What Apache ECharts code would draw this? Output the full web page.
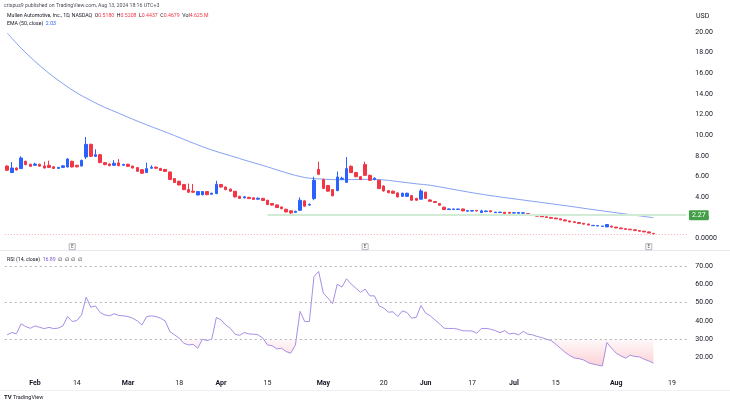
<!DOCTYPE html>
<html><head><meta charset="utf-8">
<script src="https://cdn.jsdelivr.net/npm/echarts@6/dist/echarts.min.js"></script>
<style>html,body{margin:0;padding:0;background:#fff}#c{width:730px;height:405px}</style>
</head><body><div id="c"></div>
<script>
// ---- data ----
const dates = ['01-24','01-25','01-26','01-29','01-30','01-31',
'02-01','02-02','02-05','02-06','02-07','02-08','02-09','02-12','02-13','02-14','02-15','02-16','02-20','02-21','02-22','02-23','02-26','02-27','02-28','02-29',
'03-01','03-04','03-05','03-06','03-07','03-08','03-11','03-12','03-13','03-14','03-15','03-18','03-19','03-20','03-21','03-22','03-25','03-26','03-27','03-28',
'04-01','04-02','04-03','04-04','04-05','04-08','04-09','04-10','04-11','04-12','04-15','04-16','04-17','04-18','04-19','04-22','04-23','04-24','04-25','04-26','04-29','04-30',
'05-01','05-02','05-03','05-06','05-07','05-08','05-09','05-10','05-13','05-14','05-15','05-16','05-17','05-20','05-21','05-22','05-23','05-24','05-28','05-29','05-30','05-31',
'06-03','06-04','06-05','06-06','06-07','06-10','06-11','06-12','06-13','06-14','06-17','06-18','06-20','06-21','06-24','06-25','06-26','06-27','06-28',
'07-01','07-02','07-03','07-05','07-08','07-09','07-10','07-11','07-12','07-15','07-16','07-17','07-18','07-19','07-22','07-23','07-24','07-25','07-26','07-29','07-30','07-31',
'08-01','08-02','08-05','08-06','08-07','08-08','08-09','08-12','08-13'];
const futureDates = ['08-14','08-15','08-16','08-19','08-20','08-21','08-22'];

const open = [7.03,6.40,6.84,6.78,7.49,7.20,7.10,7.20,7.03,7.10,6.95,6.80,6.90,6.94,7.49,7.10,7.03,7.90,9.13,7.97,8.13,7.36,7.22,7.10,7.33,7.10,
7.20,7.03,6.88,6.68,6.40,6.82,6.92,6.80,6.70,6.45,5.82,5.56,5.24,4.75,4.60,4.23,4.25,4.56,4.30,4.37,
5.24,5.00,4.80,4.59,4.10,3.95,4.00,3.95,3.82,3.90,3.72,3.40,3.27,3.07,2.85,2.70,2.55,2.75,3.66,3.25,3.88,6.71,
5.72,5.15,4.75,4.65,5.75,5.45,7.00,6.40,6.00,7.17,6.13,5.72,5.65,5.10,4.65,4.60,4.43,4.10,4.10,4.17,3.90,3.82,
4.50,3.75,3.60,3.40,3.05,2.82,2.82,2.83,2.88,2.66,2.67,2.74,2.53,2.62,2.70,2.52,2.53,2.56,2.55,
2.48,2.46,2.47,2.42,2.33,2.25,2.20,2.12,2.06,2.00,1.92,1.82,1.72,1.64,1.56,1.49,1.42,1.26,1.23,1.19,1.14,1.22,
1.12,1.04,0.97,0.92,0.86,0.79,0.73,0.66,0.518];
const close = [6.62,6.84,6.65,7.81,7.17,7.00,7.22,7.02,6.84,6.90,6.80,6.90,7.05,7.71,6.94,6.95,7.58,9.13,7.97,8.13,7.36,7.17,7.07,7.30,7.07,7.18,
7.00,6.84,6.52,6.33,6.78,6.92,6.82,6.60,6.50,5.72,5.43,5.20,4.75,4.49,4.50,4.56,4.56,4.26,4.40,5.27,
5.00,4.75,4.60,4.04,3.90,4.05,3.88,3.80,3.92,3.70,3.30,3.25,3.01,2.90,2.59,2.50,2.65,3.72,3.15,3.32,5.65,6.23,
4.86,4.60,4.15,5.97,5.85,6.78,6.40,6.00,5.72,6.13,5.65,5.85,4.85,4.62,4.45,4.40,4.04,4.40,4.40,3.72,3.72,4.62,
3.90,3.62,3.50,3.24,2.82,2.88,2.88,2.87,2.69,2.72,2.72,2.68,2.69,2.68,2.60,2.57,2.57,2.43,2.47,
2.52,2.54,2.50,2.35,2.26,2.18,2.12,2.05,1.98,1.92,1.82,1.72,1.62,1.56,1.48,1.41,1.32,1.29,1.26,1.22,1.37,1.12,
1.04,0.96,0.90,0.86,0.79,0.72,0.66,0.55,0.4679];
const low = [6.55,6.35,6.60,6.75,7.10,6.95,7.05,6.98,6.80,6.85,6.75,6.78,6.85,6.90,6.90,6.90,7.00,7.70,7.90,7.90,7.30,7.10,7.00,7.05,7.00,7.05,
6.95,6.80,6.50,6.30,6.35,6.78,6.75,6.55,6.45,5.70,5.40,5.15,4.70,4.45,4.45,4.20,4.20,4.20,4.25,4.30,
4.95,4.70,4.55,4.00,3.85,3.90,3.85,3.75,3.78,3.65,3.25,3.20,2.98,2.85,2.55,2.35,2.50,2.70,3.10,3.20,3.72,6.15,
4.80,4.55,4.10,4.60,5.70,5.40,6.35,5.95,5.68,6.10,5.60,5.65,4.80,4.55,4.40,4.35,4.00,4.05,4.05,3.70,3.68,3.80,
3.85,3.58,3.45,3.20,2.80,2.78,2.80,2.80,2.66,2.64,2.65,2.65,2.50,2.60,2.57,2.50,2.50,2.40,2.44,
2.45,2.44,2.44,2.33,2.24,2.16,2.10,2.03,1.96,1.90,1.80,1.70,1.60,1.54,1.46,1.39,1.30,1.24,1.21,1.17,1.12,1.10,
1.02,0.94,0.88,0.84,0.77,0.70,0.64,0.53,0.4437];
const high = [7.10,7.42,6.90,7.97,7.55,7.25,7.35,7.25,7.45,7.55,7.00,6.95,7.10,7.80,7.55,7.15,7.65,9.84,9.20,8.65,8.20,7.40,7.30,7.60,7.70,7.25,
7.25,7.05,6.90,6.70,7.36,7.10,7.00,6.85,6.75,6.50,5.85,5.60,5.30,5.33,5.30,4.60,4.60,4.60,4.45,5.60,
5.30,5.05,4.85,4.62,4.15,4.10,4.05,4.00,3.97,3.95,3.75,3.45,3.30,3.10,2.90,2.72,2.70,4.00,3.70,3.40,6.00,7.45,
5.80,5.20,4.80,6.50,6.00,7.90,7.10,6.45,6.05,7.45,6.20,5.95,5.70,5.15,4.70,4.65,4.48,4.45,4.45,4.20,3.95,4.80,
4.55,3.80,3.62,3.45,3.10,2.92,2.92,2.90,2.90,2.75,2.75,2.77,2.80,2.72,2.73,2.60,2.60,2.58,2.58,
2.55,2.56,2.53,2.45,2.35,2.27,2.22,2.14,2.08,2.02,1.94,1.84,1.74,1.66,1.58,1.51,1.44,1.31,1.28,1.24,1.42,1.25,
1.14,1.06,0.99,0.94,0.88,0.81,0.75,0.68,0.5208];

const rsi = [32.4,33.7,33.0,38.4,36.9,36.0,37.3,36.5,35.8,36.5,35.8,36.1,37.3,42.4,39.7,40.2,43.3,53.0,47.5,48.2,
44.6,43.3,42.8,43.9,43.0,42.8,42.4,41.5,40.0,37.8,42.4,42.8,42.4,41.5,40.0,34.2,32.4,30.6,27.8,26.9,
27.2,25.1,30.0,29.3,30.0,41.9,40.6,37.8,36.0,32.8,32.1,33.7,32.9,32.8,32.4,30.6,26.9,26.5,24.7,25.1,
23.3,22.4,26.9,45.2,39.7,39.7,64.3,67.0,55.2,52.5,49.4,60.1,58.5,63.0,60.1,57.9,55.6,57.4,53.7,53.7,
48.3,47.0,44.8,45.0,42.4,45.5,44.6,41.5,42.0,48.4,44.3,42.8,40.6,38.4,36.0,35.9,35.9,35.5,34.6,34.6,
34.5,33.3,35.9,35.9,35.5,34.7,33.6,34.7,32.9,33.3,32.4,34.3,32.8,32.4,31.5,30.9,30.0,29.3,27.3,25.1,
22.9,21.1,19.8,19.4,18.7,17.2,16.5,15.9,15.4,28.2,25.1,22.4,20.9,19.7,21.3,20.6,20.4,19.1,18.2,16.9];

const emaIdx = [0,3,6,9,12,15,18,21,24,27,30,33,36,40,44,48,52,56,60,64,68,72,76,80,84,88,91,95,100,105,110,115,120,125,130,135,139];
const emaVal = [19.9,18.44,17.15,16.0,15.0,14.1,13.37,12.7,12.14,11.56,11.02,10.5,9.98,9.25,8.58,8.03,7.48,6.95,6.38,5.92,5.76,5.7,5.74,5.72,5.53,5.31,5.17,4.85,4.45,4.1,3.8,3.5,3.2,2.88,2.57,2.27,2.03];

const tickDates = ['02-01','02-14','03-01','03-18','04-01','04-15','05-01','05-20','06-03','06-17','07-01','07-15','08-01','08-19'];
const tickLabels = ['Feb','14','Mar','18','Apr','15','May','20','Jun','17','Jul','15','Aug','19'];
const earningsDates = ['02-13','05-14','08-12'];
const levelStart = '04-15';
const levelValue = 2.27;
const lastClose = 0.4679;
const rsiLevels = [70, 50, 30];

// ---- chart ----
const allDates = dates.concat(futureDates);
const candles = dates.map((d, i) => [open[i], close[i], low[i], high[i]]);
const ema = emaIdx.map((k, j) => [dates[k], emaVal[j]]);
const osBase = rsi.map(v => Math.min(v, 30));
const osFill = rsi.map(v => 30 - Math.min(v, 30));

const FONT = 'Roboto';
const TXT = '#131722';
const chart = echarts.init(document.getElementById('c'), null, {renderer: 'canvas'});
const gridL = 4.8, gridW = 683.5;

chart.setOption({
  animation: false,
  backgroundColor: '#ffffff',
  textStyle: {fontFamily: FONT},
  grid: [
    {left: gridL, width: gridW, top: 11.3, height: 227.4},
    {left: gridL, width: gridW, top: 251.7, height: 124.2}
  ],
  xAxis: [
    {type: 'category', gridIndex: 0, data: allDates, boundaryGap: true,
     axisLine: {show: false}, axisTick: {show: false}, axisLabel: {show: false}, splitLine: {show: false}},
    {type: 'category', gridIndex: 1, data: allDates, boundaryGap: true,
     axisLine: {show: false}, axisTick: {show: false}, splitLine: {show: false},
     axisLabel: {
       interval: (i, v) => tickDates.indexOf(v) >= 0,
       formatter: v => {
         const t = tickLabels[tickDates.indexOf(v)];
         return /^[A-Z]/.test(t) ? '{b|' + t + '}' : t;
       },
       color: TXT, fontSize: 7, margin: 4,
       rich: {b: {fontWeight: 'bold', fontSize: 7, color: TXT}}
     }}
  ],
  yAxis: [
    {type: 'value', gridIndex: 0, position: 'right', min: 0, max: 22, interval: 2,
     splitLine: {show: false}, axisLine: {show: false}, axisTick: {show: false},
     axisLabel: {color: TXT, fontSize: 7, margin: 7,
       formatter: v => v > 20 ? '' : (v === 0 ? '0.0000' : v.toFixed(2))}},
    {type: 'value', gridIndex: 1, position: 'right', min: 10, max: 77.8, interval: 10,
     splitLine: {show: false}, axisLine: {show: false}, axisTick: {show: false},
     axisLabel: {color: TXT, fontSize: 7, margin: 7, showMaxLabel: false,
       formatter: v => (v < 20 || v > 70) ? '' : v.toFixed(2)}}
  ],
  series: [
    {
      type: 'line', name: 'EMA', xAxisIndex: 0, yAxisIndex: 0, data: ema,
      showSymbol: false, smooth: 0.35,
      lineStyle: {color: '#86a2f2', width: 1}, z: 1
    },
    {
      type: 'candlestick', xAxisIndex: 0, yAxisIndex: 0, data: candles, barWidth: 3,
      itemStyle: {color: '#2962FF', color0: '#F23645', borderColor: '#2962FF', borderColor0: '#F23645', borderWidth: 1},
      z: 3,
      markLine: {
        silent: true, symbol: ['none', 'none'], animation: false,
        data: [
          [{coord: [levelStart, levelValue], lineStyle: {color: '#d2ebd4', width: 2, type: 'solid'},
            label: {show: true, position: 'end', formatter: levelValue.toFixed(2), color: '#fff',
                    backgroundColor: '#43a047', padding: [2, 3, 1, 3], fontSize: 7, distance: 3, borderRadius: 1}},
           {coord: [allDates[allDates.length - 1], levelValue]}],
          {yAxis: lastClose, lineStyle: {color: '#F23645', opacity: 0.45, width: 1, type: [1, 2]}, label: {show: false}}
        ]
      },
      markPoint: {
        silent: true, animation: false,
        symbol: 'rect', symbolSize: [6, 6], symbolOffset: [0, 8],
        itemStyle: {color: '#ffffff', borderColor: '#9598a1', borderWidth: 0.7},
        label: {show: true, formatter: 'E', color: '#555', fontSize: 4.5, position: 'inside'},
        data: earningsDates.map(d => ({coord: [d, 0]}))
      }
    },
    {
      type: 'line', xAxisIndex: 1, yAxisIndex: 1, data: osBase, stack: 'os',
      showSymbol: false, lineStyle: {opacity: 0}, silent: true
    },
    {
      type: 'line', xAxisIndex: 1, yAxisIndex: 1, data: osFill, stack: 'os',
      showSymbol: false, lineStyle: {opacity: 0}, silent: true,
      areaStyle: {color: new echarts.graphic.LinearGradient(0, 0, 0, 1, [
        {offset: 0, color: 'rgba(242,54,69,0.04)'},
        {offset: 1, color: 'rgba(242,54,69,0.32)'}
      ])}
    },
    {
      type: 'line', xAxisIndex: 1, yAxisIndex: 1, data: rsi,
      showSymbol: false, lineStyle: {color: '#a88ee6', width: 1}, z: 4,
      markLine: {
        silent: true, symbol: ['none', 'none'], animation: false,
        label: {show: false},
        lineStyle: {color: '#b2b5be', width: 1, type: [2, 3]},
        data: rsiLevels.map(v => ({yAxis: v}))
      }
    }
  ],
  graphic: [
    {type: 'line', shape: {x1: 0, y1: 250.5, x2: 730, y2: 250.5}, style: {stroke: '#e6e8ee', lineWidth: 1}, silent: true},
    {type: 'line', shape: {x1: 0, y1: 390.5, x2: 730, y2: 390.5}, style: {stroke: '#eef0f4', lineWidth: 1}, silent: true},
    {type: 'text', left: 4, top: 3, style: {text: 'crispus9 published on TradingView.com, Aug 13, 2024 18:16 UTC+3', fill: '#4a4e59', fontSize: 5.2, fontFamily: FONT}},
    {type: 'text', left: 7, top: 13, style: {
      text: 'Mullen Automotive, Inc., 1D, NASDAQ  O{v|0.5180}  H{v|0.5208}  L{v|0.4437}  C{v|0.4679}  Vol{v|4.625 M}',
      fill: '#131722', fontSize: 5.2, fontFamily: FONT,
      rich: {v: {fill: '#F23645', fontSize: 5.2, fontFamily: FONT}}}},
    {type: 'text', left: 7, top: 21, style: {
      text: 'EMA (50, close)  {v|2.03}', fill: '#131722', fontSize: 5.2, fontFamily: FONT,
      rich: {v: {fill: '#2962FF', fontSize: 5.2, fontFamily: FONT}}}},
    {type: 'text', left: 696, top: 13, style: {text: 'USD', fill: TXT, fontSize: 7, fontFamily: FONT}},
    {type: 'text', left: 7, top: 257, style: {
      text: 'RSI (14, close)  {v|16.89}  ∅  ∅  ∅  ∅', fill: '#131722', fontSize: 5.2, fontFamily: FONT,
      rich: {v: {fill: '#7E57C2', fontSize: 5.2, fontFamily: FONT}}}},
    {type: 'text', left: 4, top: 394, style: {text: 'TV', fill: '#131722', fontSize: 6, fontWeight: 'bold', fontFamily: FONT}},
    {type: 'text', left: 13, top: 394.5, style: {text: 'TradingView', fill: '#131722', fontSize: 5.5, fontFamily: FONT}}
  ]
});
</script>
</body></html>
